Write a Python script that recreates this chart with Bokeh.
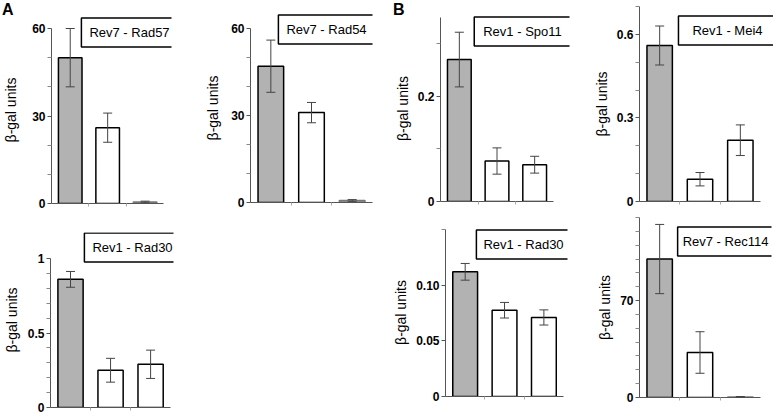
from bokeh.plotting import figure
from bokeh.models import (Range1d, FixedTicker, Label, Whisker, TeeHead,
                          ColumnDataSource, Spacer, Div)
from bokeh.layouts import row, column
from bokeh.embed import file_html
from bokeh.resources import INLINE

# ---------------- data ----------------
a1_title = "Rev7 - Rad57"
a1_values = [50, 26, 0.5]
a1_errors = [10, 5, 0.3]
a1_ticks = [0, 30, 60]
a1_tick_labels = ["0", "30", "60"]
a1_minor = [10, 20, 40, 50]

a2_title = "Rev7 - Rad54"
a2_values = [47, 31, 0.7]
a2_errors = [9, 3.5, 0.3]
a2_ticks = [0, 30, 60]
a2_tick_labels = ["0", "30", "60"]
a2_minor = [10, 20, 40, 50]

b1_title = "Rev1 - Spo11"
b1_values = [0.27, 0.077, 0.070]
b1_errors = [0.052, 0.025, 0.016]
b1_ticks = [0, 0.2]
b1_tick_labels = ["0", "0.2"]
b1_minor = [0.1, 0.3]

b2_title = "Rev1 - Mei4"
b2_values = [0.56, 0.08, 0.22]
b2_errors = [0.07, 0.024, 0.055]
b2_ticks = [0, 0.3, 0.6]
b2_tick_labels = ["0", "0.3", "0.6"]
b2_minor = [0.1, 0.2, 0.4, 0.5, 0.7]

a3_title = "Rev1 - Rad30"
a3_values = [0.86, 0.25, 0.29]
a3_errors = [0.053, 0.08, 0.095]
a3_ticks = [0, 0.5, 1]
a3_tick_labels = ["0", "0.5", "1"]
a3_minor = [0.1, 0.2, 0.3, 0.4, 0.6, 0.7, 0.8, 0.9]

b3_title = "Rev1 - Rad30"
b3_values = [0.112, 0.0775, 0.071]
b3_errors = [0.0075, 0.007, 0.0068]
b3_ticks = [0, 0.05, 0.10]
b3_tick_labels = ["0", "0.05", "0.10"]
b3_minor = [0.15]

b4_title = "Rev7 - Rec114"
b4_values = [100, 32.5, 0.4]
b4_errors = [25, 15, 0.3]
b4_ticks = [0, 70]
b4_tick_labels = ["0", "70"]
b4_minor = [10, 20, 30, 40, 50, 60, 80, 90, 100, 110, 120, 130]

panel_letters = ["A", "B"]

# ---------------- styles / layout ----------------
GRAY = "#b2b2b2"
DARK = "#9a9a9a"
FONT = "Liberation Sans"
COLS = [0, 190, 390, 580, 773]
ROWS = [0, 210, 415]
BOX_W, BOX_H = 91, 26
LABEL_DY = 2


def panel(col, rowi, frame, ytop, box, pad, title, values, errors, ticks,
          tick_labels, minor, fills, lines, standoff, top_off=0):
    L, R, T, B = frame
    bx, by = box
    x0c, x1c = COLS[col], COLS[col + 1]
    y0c, y1c = ROWS[rowi] + top_off, ROWS[rowi + 1]
    W, H = x1c - x0c, y1c - y0c
    by = max(by, y0c + BOX_H / 2 + 1)
    Rf = min(max(R, bx + BOX_W / 2 + 1), x1c)
    Tf = max(min(T, by - BOX_H / 2 - 1), y0c)
    Lc, Rc, Tc, Bc = round(L), round(Rf), round(Tf), round(B)
    xend = 0.5 + 3.0 * (Rc - L) / (R - L)
    yend = ytop * (B - Tc) / (B - T)
    p = figure(width=W, height=H, x_range=Range1d(0.5, xend),
               y_range=Range1d(0, yend), output_backend="svg",
               toolbar_location=None,
               min_border_left=Lc - x0c, min_border_right=x1c - Rc,
               min_border_top=Tc - y0c, min_border_bottom=y1c - Bc)
    p.outline_line_color = None
    p.xgrid.visible = False
    p.ygrid.visible = False
    xs = [i + 1 for i in range(len(values))]
    src = ColumnDataSource(dict(x=xs, top=values, fill=fills, line=lines))
    p.vbar(x="x", top="top", width=0.63, source=src, fill_color="fill",
           line_color="line", line_width=1.5)
    esrc = ColumnDataSource(dict(
        x=xs,
        upper=[v + e for v, e in zip(values, errors)],
        lower=[max(v - e, 0) for v, e in zip(values, errors)]))
    w = Whisker(source=esrc, base="x", upper="upper", lower="lower",
                line_color="#444444", line_width=1, level="overlay",
                upper_head=TeeHead(size=9, line_color="#444444", line_width=1),
                lower_head=TeeHead(size=9, line_color="#444444", line_width=1))
    p.add_layout(w)

    ya = p.yaxis[0]
    ya.bounds = (0, ytop)
    ya.ticker = FixedTicker(ticks=ticks, minor_ticks=minor)
    ya.major_label_overrides = {t: s for t, s in zip(ticks, tick_labels)}
    ya.major_label_text_font = FONT
    ya.major_label_text_font_style = "bold"
    ya.major_label_text_font_size = "12px"
    ya.major_label_text_color = "black"
    ya.major_label_standoff = 2
    ya.axis_line_color = "#555555"
    ya.major_tick_line_color = "#555555"
    ya.minor_tick_line_color = "#888888"
    ya.major_tick_out = 4
    ya.major_tick_in = 0
    ya.minor_tick_out = 4
    ya.minor_tick_in = 0
    ya.axis_label = "\u03b2-gal units"
    ya.axis_label_text_font = FONT
    ya.axis_label_text_font_style = "normal"
    ya.axis_label_text_font_size = "14px"
    ya.axis_label_text_color = "black"
    ya.axis_label_standoff = standoff

    xa = p.xaxis[0]
    xa.bounds = (0.5, 3.5)
    xa.ticker = FixedTicker(ticks=[], minor_ticks=[1.5, 2.5])
    xa.axis_line_color = "#555555"
    xa.minor_tick_line_color = "#aaaaaa"
    xa.minor_tick_out = 3
    xa.minor_tick_in = 0
    xa.major_tick_line_color = None

    p.add_layout(Label(x=round(bx - L), y=round(B - by - LABEL_DY),
                       x_units="screen", y_units="screen", text=title,
                       text_align="center", text_baseline="middle",
                       text_font=FONT, text_font_size="13px",
                       text_color="black",
                       border_line_color="black", border_line_width=1.5,
                       background_fill_color="white", padding=(pad, 7)))
    return p


def letter_div(col, height, text, x):
    W = COLS[col + 1] - COLS[col]
    return Div(text=text, width=W, height=height, margin=(0, 0, 0, 0),
               styles={"font-family": FONT, "font-weight": "bold",
                       "font-size": "16px", "line-height": "16px",
                       "padding-left": f"{x}px", "padding-top": "2px",
                       "color": "black"})


F3 = [GRAY, "white", DARK]
L3 = ["black", "black", "#777777"]
FW = [GRAY, "white", "white"]
LW = ["black", "black", "black"]

STRIP_A, STRIP_B = 16, 15

pa1 = panel(0, 0, (46, 163, 28, 203), 60, (124.5, 29), 8, a1_title,
            a1_values, a1_errors, a1_ticks, a1_tick_labels, a1_minor,
            F3, L3, 10, top_off=STRIP_A)
pa2 = panel(1, 0, (250, 372, 28, 202), 60, (326, 27), 8, a2_title,
            a2_values, a2_errors, a2_ticks, a2_tick_labels, a2_minor,
            F3, L3, 7)
pb1 = panel(2, 0, (440, 553, 17, 201), 0.35, (522.5, 27.5), 9, b1_title,
            b1_values, b1_errors, b1_ticks, b1_tick_labels, b1_minor,
            FW, LW, 4, top_off=STRIP_B)
pb2 = panel(3, 0, (639, 760, 6, 201), 0.7, (726.5, 28), 14, b2_title,
            b2_values, b2_errors, b2_ticks, b2_tick_labels, b2_minor,
            FW, LW, 4)
pa3 = panel(0, 1, (45, 170, 258, 407), 1, (126.5, 245.5), 8, a3_title,
            a3_values, a3_errors, a3_ticks, a3_tick_labels, a3_minor,
            FW, LW, 5)
pb3 = panel(2, 1, (443, 563, 229, 396), 0.15, (520.5, 241.5), 7, b3_title,
            b3_values, b3_errors, b3_ticks, b3_tick_labels, b3_minor,
            FW, LW, 4)
pb4 = panel(3, 1, (639, 760, 217, 397), 130, (724.5, 239), 5, b4_title,
            b4_values, b4_errors, b4_ticks, b4_tick_labels, b4_minor,
            F3, L3, 4)

da = letter_div(0, STRIP_A, panel_letters[0], 2)
db = letter_div(2, STRIP_B, panel_letters[1], 3)

gap = Spacer(width=COLS[2] - COLS[1], height=ROWS[2] - ROWS[1])
layout = column(row(column(da, pa1), column(pa2), column(db, pb1),
                    column(pb2)),
                row(column(pa3), gap, column(pb3), column(pb4)))

open("out.html", "w").write(file_html(layout, INLINE))
